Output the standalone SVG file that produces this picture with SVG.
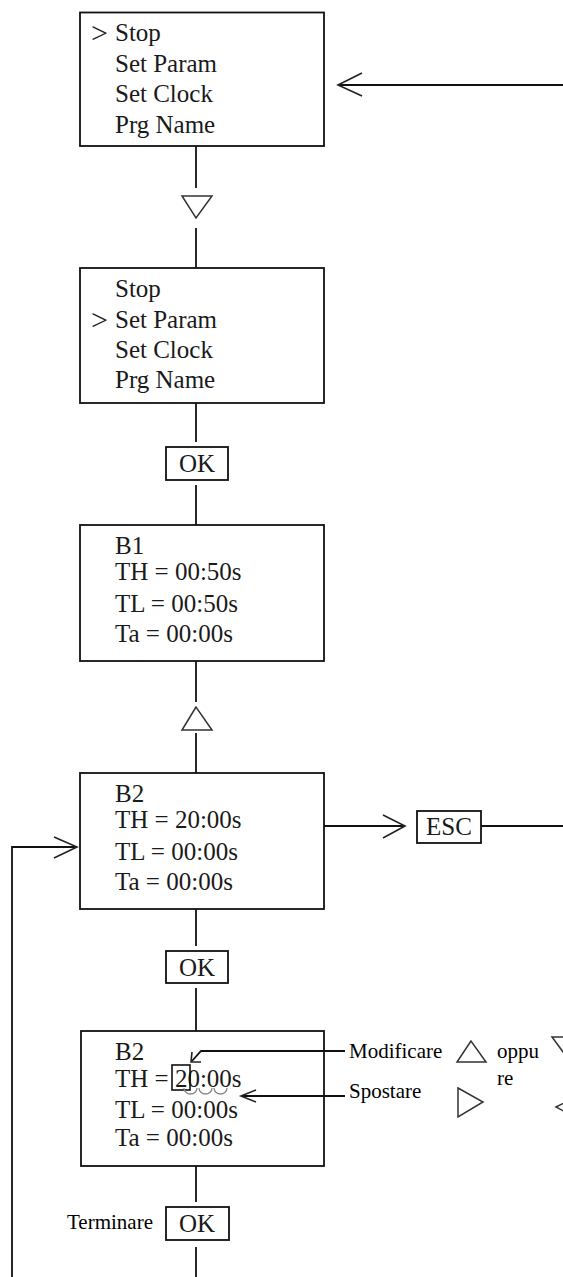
<svg xmlns="http://www.w3.org/2000/svg" width="563" height="1277" viewBox="0 0 563 1277">
<style>
.box{fill:#fff;stroke:#111;stroke-width:1.8}
.ln{fill:none;stroke:#111;stroke-width:1.8}
.ch{fill:none;stroke:#222;stroke-width:1.6}
.tri{fill:none;stroke:#333;stroke-width:1.5;stroke-linejoin:miter}
.t{font-family:"Liberation Serif","Times New Roman",serif;font-size:25px;fill:#1a1a1a}
.s{font-family:"Liberation Serif","Times New Roman",serif;font-size:21px;fill:#000}
.cur{font-family:"Liberation Serif","Times New Roman",serif;font-size:30px;fill:#222}
.arc{fill:none;stroke:#888;stroke-width:1.3}
</style>
<rect width="563" height="1277" fill="#fff"/>
<g id="connectors">
  <line class="ln" x1="196" y1="146" x2="196" y2="188"/>
  <line class="ln" x1="196" y1="228" x2="196" y2="268"/>
  <line class="ln" x1="196" y1="403" x2="196" y2="442"/>
  <line class="ln" x1="196" y1="485" x2="196" y2="525"/>
  <line class="ln" x1="196" y1="661" x2="196" y2="702"/>
  <line class="ln" x1="196" y1="733" x2="196" y2="773"/>
  <line class="ln" x1="196" y1="909" x2="196" y2="946"/>
  <line class="ln" x1="196" y1="988" x2="196" y2="1031"/>
  <line class="ln" x1="196" y1="1166" x2="196" y2="1202"/>
  <line class="ln" x1="196" y1="1247" x2="196" y2="1277"/>
  <line class="ln" x1="563" y1="85" x2="339" y2="85"/>
  <polyline class="ch" points="362,73 338,85 362,96"/>
  <line class="ln" x1="324" y1="826" x2="404" y2="826"/>
  <polyline class="ch" points="383,815 405,826 383,838"/>
  <line class="ln" x1="481" y1="826" x2="563" y2="826"/>
  <polyline class="ln" points="12,1277 12,847 77,847"/>
  <polyline class="ch" points="54,837 77,847 54,858"/>
</g>
<g id="menu1">
  <rect class="box" x="80" y="12.5" width="244" height="133.5"/>
  <text class="cur" x="91" y="43">&gt;</text>
  <text class="t" x="115" y="41">Stop</text>
  <text class="t" x="115" y="72">Set Param</text>
  <text class="t" x="115" y="102">Set Clock</text>
  <text class="t" x="115" y="133">Prg Name</text>
</g>
<g id="down1">
  <polygon class="tri" points="182,196 212,196 196,218"/>
</g>
<g id="menu2">
  <rect class="box" x="80" y="268" width="244" height="135"/>
  <text class="t" x="115" y="297">Stop</text>
  <text class="cur" x="91" y="330">&gt;</text>
  <text class="t" x="115" y="328">Set Param</text>
  <text class="t" x="115" y="358">Set Clock</text>
  <text class="t" x="115" y="388">Prg Name</text>
</g>
<g id="ok1">
  <rect class="box" x="166" y="447" width="62" height="33"/>
  <text class="t" x="197" y="472" text-anchor="middle">OK</text>
</g>
<g id="b1">
  <rect class="box" x="80" y="525" width="244" height="136"/>
  <text class="t" x="115" y="554">B1</text>
  <text class="t" x="115" y="580">TH = 00:50s</text>
  <text class="t" x="115" y="612">TL = 00:50s</text>
  <text class="t" x="115" y="642">Ta = 00:00s</text>
</g>
<g id="up1">
  <polygon class="tri" points="196,707 182,730 212,730"/>
</g>
<g id="b2">
  <rect class="box" x="80" y="773" width="244" height="136"/>
  <text class="t" x="115" y="802">B2</text>
  <text class="t" x="115" y="828">TH = 20:00s</text>
  <text class="t" x="115" y="860">TL = 00:00s</text>
  <text class="t" x="115" y="890">Ta = 00:00s</text>
</g>
<g id="esc">
  <rect class="box" x="417" y="811" width="64" height="32"/>
  <text class="t" x="449" y="835" text-anchor="middle">ESC</text>
</g>
<g id="ok2">
  <rect class="box" x="166" y="951" width="62" height="32"/>
  <text class="t" x="197" y="976" text-anchor="middle">OK</text>
</g>
<g id="b2edit">
  <rect class="box" x="81" y="1031" width="243" height="135"/>
  <text class="t" x="115" y="1060">B2</text>
  <text class="t" x="115" y="1087">TH = 20:00s</text>
  <rect fill="none" stroke="#111" stroke-width="1.6" x="172" y="1065" width="18" height="25"/>
  <path class="arc" d="M184,1088 a6.5,6 0 0 0 13,0 M199,1088 a6.5,6 0 0 0 13,0 M214,1088 a6.5,6 0 0 0 13,0"/>
  <text class="t" x="115" y="1118">TL = 00:00s</text>
  <text class="t" x="115" y="1146">Ta = 00:00s</text>
</g>
<g id="ok3">
  <rect class="box" x="166" y="1207" width="63" height="33"/>
  <text class="t" x="197" y="1232" text-anchor="middle">OK</text>
  <text class="s" x="67" y="1229">Terminare</text>
</g>
<g id="connectors-legend">
  <polyline class="ln" points="345,1051 201,1051 192,1061"/>
  <polyline class="ch" points="192,1052 191,1062 201,1062"/>
  <line class="ln" x1="345" y1="1096" x2="242" y2="1096"/>
  <polyline class="ch" points="256,1090 241,1096 256,1102"/>
</g>
<g id="legend">
  <text class="s" x="349" y="1058">Modificare</text>
  <text class="s" x="349" y="1098">Spostare</text>
  <polygon class="tri" points="471,1041 457,1062 486,1062"/>
  <text class="s" x="497" y="1058">oppu</text>
  <text class="s" x="497" y="1085">re</text>
  <polygon class="tri" points="552,1037 586,1037 569,1060"/>
  <polygon class="tri" points="458,1088 483,1102 458,1117"/>
  <polygon class="tri" points="556,1107 582,1094 582,1121"/>
</g>
</svg>
